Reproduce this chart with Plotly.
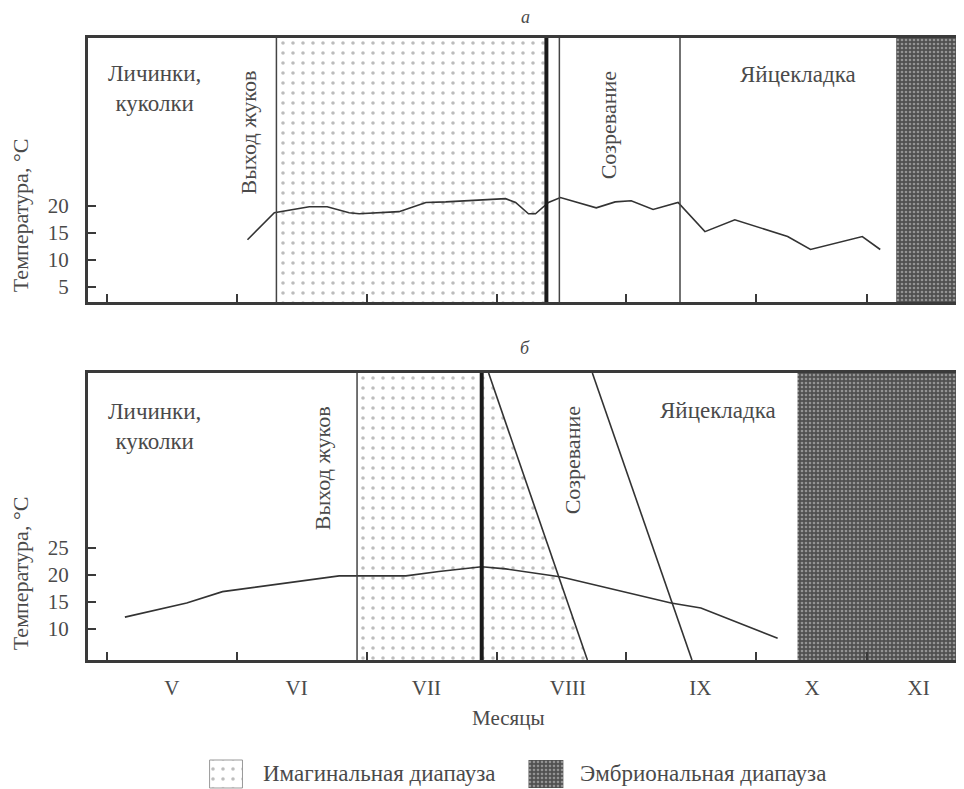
import plotly.graph_objects as go

# month axis: 0 = start of May, 1 unit ~ one month
month_starts = [0, 1, 2, 3, 4, 5, 5.85]
month_label_pos = [0.5, 1.46, 2.46, 3.55, 4.57, 5.43, 6.25]
month_names = ["V", "VI", "VII", "VIII", "IX", "X", "XI"]

# panel a: temperature curve
temp_a_x = [1.082, 1.289, 1.558, 1.696, 1.865, 1.942, 2.249, 2.456, 2.609, 3.070,
            3.147, 3.246, 3.300, 3.400, 3.492, 3.768, 3.914, 4.037, 4.206, 4.398,
            4.605, 4.835, 5.242, 5.418, 5.817, 5.955]
temp_a_y = [13.7, 18.7, 19.8, 19.8, 18.7, 18.5, 18.9, 20.6, 20.7, 21.3,
            20.6, 18.5, 18.5, 20.6, 21.5, 19.6, 20.7, 20.9, 19.3, 20.6,
            15.2, 17.4, 14.3, 11.9, 14.3, 11.9]

# panel b: temperature curve
temp_b_x = [0.138, 0.614, 0.890, 1.788, 2.302, 2.556, 2.886, 3.070, 3.500, 4.344, 4.574, 5.165]
temp_b_y = [12.2, 14.8, 16.9, 19.8, 19.8, 20.6, 21.5, 21.1, 19.6, 14.8, 13.9, 8.3]

# phase boundaries (months)
a_emergence = 1.305
a_diapause_end = 3.384
a_maturation = 3.484
a_oviposition = 4.413
a_embryonic = 6.078

b_emergence = 1.926
b_diapause_end = 2.886
b_maturation = [2.939, 3.700]    # top, bottom
b_oviposition = [3.738, 4.505]   # top, bottom
b_embryonic = 5.318

x_range = [-0.146, 6.577]
ya_range = [2.2, 51]
yb_range = [4.3, 57.2]
ya_ticks = [5, 10, 15, 20]
yb_ticks = [10, 15, 20, 25]

FONT = "Liberation Serif"
TXT = "#4a4a4a"
LINE = "#333333"

light = dict(shape=".", fgcolor="#7a7a7a", bgcolor="white", size=10, solidity=0.1)
dark = dict(shape=".", fgcolor="#d8d8d8", bgcolor="#505050", size=4, solidity=0.35)

fig = go.Figure()


def region(xs, ys, pattern, xa, ya):
    fig.add_trace(go.Scatter(
        x=xs, y=ys, xaxis=xa, yaxis=ya, mode="lines", fill="toself",
        fillpattern=pattern, fillcolor="rgba(0,0,0,0)", line=dict(width=0),
        hoverinfo="skip", showlegend=False,
    ))


# panel a regions
region([a_emergence, a_diapause_end, a_diapause_end, a_emergence],
       [ya_range[0], ya_range[0], ya_range[1], ya_range[1]], light, "x", "y")
region([a_embryonic, x_range[1], x_range[1], a_embryonic],
       [ya_range[0], ya_range[0], ya_range[1], ya_range[1]], dark, "x", "y")

# panel b regions
region([b_emergence, b_emergence, b_maturation[0], b_maturation[1]],
       [yb_range[0], yb_range[1], yb_range[1], yb_range[0]], light, "x2", "y2")
region([b_embryonic, x_range[1], x_range[1], b_embryonic],
       [yb_range[0], yb_range[0], yb_range[1], yb_range[1]], dark, "x2", "y2")

fig.add_trace(go.Scatter(x=temp_a_x, y=temp_a_y, xaxis="x", yaxis="y", mode="lines",
                         line=dict(color=LINE, width=1.6), showlegend=False))
fig.add_trace(go.Scatter(x=temp_b_x, y=temp_b_y, xaxis="x2", yaxis="y2", mode="lines",
                         line=dict(color=LINE, width=1.6), showlegend=False))

# vertical phase lines
for xv, w, xr, yr in [
    (a_emergence, 1.5, "x", "y domain"),
    (a_diapause_end, 4, "x", "y domain"),
    (a_maturation, 1.5, "x", "y domain"),
    (a_oviposition, 1.5, "x", "y domain"),
    (b_emergence, 1.5, "x2", "y2 domain"),
    (b_diapause_end, 4, "x2", "y2 domain"),
]:
    fig.add_shape(type="line", xref=xr, yref=yr, x0=xv, x1=xv, y0=0, y1=1,
                  line=dict(color="#1a1a1a" if w > 2 else "#444", width=w))
for top, bot in [b_maturation, b_oviposition]:
    fig.add_shape(type="line", xref="x2", yref="y2 domain", x0=top, x1=bot, y0=1, y1=0,
                  line=dict(color="#333", width=1.6))

# legend swatches on a hidden axis pair (pixel-like units)
region([210, 243, 243, 210], [1, 1, 29, 29], light, "x3", "y3")
region([530, 565, 565, 530], [1, 1, 29, 29], dark, "x3", "y3")
fig.add_trace(go.Scatter(x=[210, 243, 243, 210, 210], y=[1, 1, 29, 29, 1], xaxis="x3", yaxis="y3",
                         mode="lines", line=dict(color="#999", width=1), showlegend=False))

axis_common = dict(showline=True, mirror=True, linewidth=3, linecolor="#3a3a3a",
                   showgrid=False, zeroline=False, range=x_range, fixedrange=True)

# page body has an 8px margin, so the figure is 8px smaller on each axis
fig.update_layout(
    width=956, height=781,
    margin=dict(l=80, r=0, t=30, b=0),
    paper_bgcolor="white", plot_bgcolor="white",
    font=dict(family=FONT, size=21, color=TXT),
    showlegend=False,
    xaxis=dict(**axis_common, anchor="y", domain=[0, 1], tickmode="array",
               tickvals=month_starts, ticks="inside", ticklen=8, tickwidth=2,
               tickcolor="#3a3a3a", showticklabels=False),
    yaxis=dict(showline=True, mirror=True, linewidth=3, linecolor="#3a3a3a",
               showgrid=False, zeroline=False, anchor="x", domain=[0.6485, 1],
               range=ya_range, tickvals=ya_ticks, ticks="inside", ticklen=8,
               tickwidth=2, tickcolor="#3a3a3a", ticklabelstandoff=12),
    xaxis2=dict(**axis_common, anchor="y2", domain=[0, 1], tickmode="array",
                tickvals=month_label_pos, ticktext=month_names, ticks="",
                ticklabelstandoff=7,
                minor=dict(tickvals=month_starts, ticks="inside", ticklen=8,
                           tickwidth=2, tickcolor="#3a3a3a")),
    yaxis2=dict(showline=True, mirror=True, linewidth=3, linecolor="#3a3a3a",
                showgrid=False, zeroline=False, anchor="x2", domain=[0.1718, 0.5539],
                range=yb_range, tickvals=yb_ticks, ticks="inside", ticklen=8,
                tickwidth=2, tickcolor="#3a3a3a", ticklabelstandoff=12),
    xaxis3=dict(visible=False, domain=[0, 1], range=[88, 964], anchor="y3"),
    yaxis3=dict(visible=False, domain=[0, 0.06], range=[0, 45.06], anchor="x3"),
)

ann = []


def note(text, x, y, xref, yref, angle=0, size=21, italic=False, xanchor="center"):
    t = f"<i>{text}</i>" if italic else text
    ann.append(dict(text=t, x=x, y=y, xref=xref, yref=yref, textangle=angle,
                    showarrow=False, xanchor=xanchor, yanchor="middle",
                    font=dict(family=FONT, size=size, color=TXT)))


# panel a texts
note("Личинки,<br>куколки", 0.368, 0.81, "x", "y domain", size=23)
note("Выход жуков", 1.09, 0.64, "x", "y domain", angle=-90, size=22)
note("Созревание", 3.86, 0.67, "x", "y domain", angle=-90, size=22)
note("Яйцекладка", 5.318, 0.86, "x", "y domain", size=23)
# panel b texts
note("Личинки,<br>куколки", 0.368, 0.815, "x2", "y2 domain", size=23)
note("Выход жуков", 1.658, 0.669, "x2", "y2 domain", angle=-90, size=22)
note("Созревание", 3.592, 0.697, "x2", "y2 domain", angle=-90, size=22)
note("Яйцекладка", 4.705, 0.871, "x2", "y2 domain", size=23)
# panel letters (screen pixel positions in the 964x789 reference)
note("а", 527, 17, "paper", "paper", italic=True, size=18)
note("б", 527, 348, "paper", "paper", italic=True, size=18)
# axis titles
note("Температура, °С", 20, 215, "paper", "paper", angle=-90, size=22)
note("Температура, °С", 20, 573, "paper", "paper", angle=-90, size=22)
note("Месяцы", 510, 718, "paper", "paper")
# legend texts
note("Имагинальная диапауза", 262, 15, "x3", "y3", size=23, xanchor="left")
note("Эмбриональная диапауза", 580, 15, "x3", "y3", size=23, xanchor="left")

# convert screen pixels to plot-area fractions (plot area: x 88..964, y 38..789)
for a in ann:
    if a["xref"] == "paper":
        a["x"] = (a["x"] - 88) / 876
    if a["yref"] == "paper":
        a["y"] = (789 - a["y"]) / 751

fig.update_layout(annotations=ann)

fig.write_html("out.html")
